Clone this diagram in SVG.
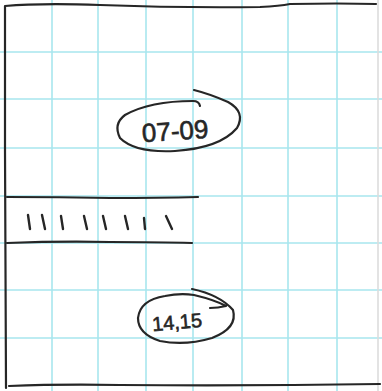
<svg xmlns="http://www.w3.org/2000/svg" width="382" height="391" viewBox="0 0 382 391">
<style>
.grid{stroke:#a8e6ee;stroke-width:1.6;fill:none}
.ink{stroke:#262626;stroke-width:2.2;fill:none;stroke-linecap:round;stroke-linejoin:round}
.tally{stroke:#262626;stroke-width:2.4;fill:none;stroke-linecap:round}
.hand{font-family:"Liberation Sans","DejaVu Sans",sans-serif;fill:#262626;stroke:#262626;stroke-width:0.6;text-anchor:middle}
</style>
<rect width="382" height="391" fill="#ffffff"/>
<g id="grid" class="grid">
<path d="M52 0V391M98 0V391M146 0V391M193 0V391M242 0V391M288 0V391M337 0V391"/>
<path d="M0 52H382M0 99H382M0 148H382M0 196H382M0 243H382M0 290H382M0 338H382"/>
<path d="M378 0V391" stroke="#dcdcdc"/>
</g>
<g id="frame" class="ink">
<path d="M6 388 L5 150 L5 6 Q40 3 100 5 Q180 8 260 7 Q280 6 290 4 Q340 3 376 4"/>
<path d="M9 386 Q60 384 120 385 Q250 386 380 384"/>
</g>
<g id="band">
<path class="ink" d="M7 197 Q60 197 110 198 Q160 198 198 197"/>
<path class="ink" d="M7 243 Q60 241 110 242 Q160 242 192 243"/>
<g id="tallies" class="tally">
<path d="M28 215 L30 229"/>
<path d="M42 215 L45 229"/>
<path d="M61 216 L63 229"/>
<path d="M84 216 L87 229"/>
<path d="M103 216 L106 229"/>
<path d="M125 216 L128 229"/>
<path d="M144 218 L145 229"/>
<path d="M166 216 L172 229"/>
</g>
</g>
<g id="node-07-09">
<path class="ink" d="M200 106 Q199 101 193 101 Q150 101 125 115 Q113 124 120 138 Q135 153 175 151 Q220 148 237 128 Q246 112 228 102 Q210 94 194 90"/>
<text class="hand" x="175" y="140" font-size="26" transform="rotate(-4 175 130)">07-09</text>
</g>
<g id="node-14-15">
<path class="ink" d="M192 289 Q220 295 233 310 Q238 328 212 338 Q185 346 160 341 Q138 334 138 318 Q140 300 165 296 Q180 293 194 295 Q215 300 226 306 Q218 308 210 308"/>
<text class="hand" x="177" y="329" font-size="20" transform="rotate(-5 177 322)">14,15</text>
</g>
</svg>
